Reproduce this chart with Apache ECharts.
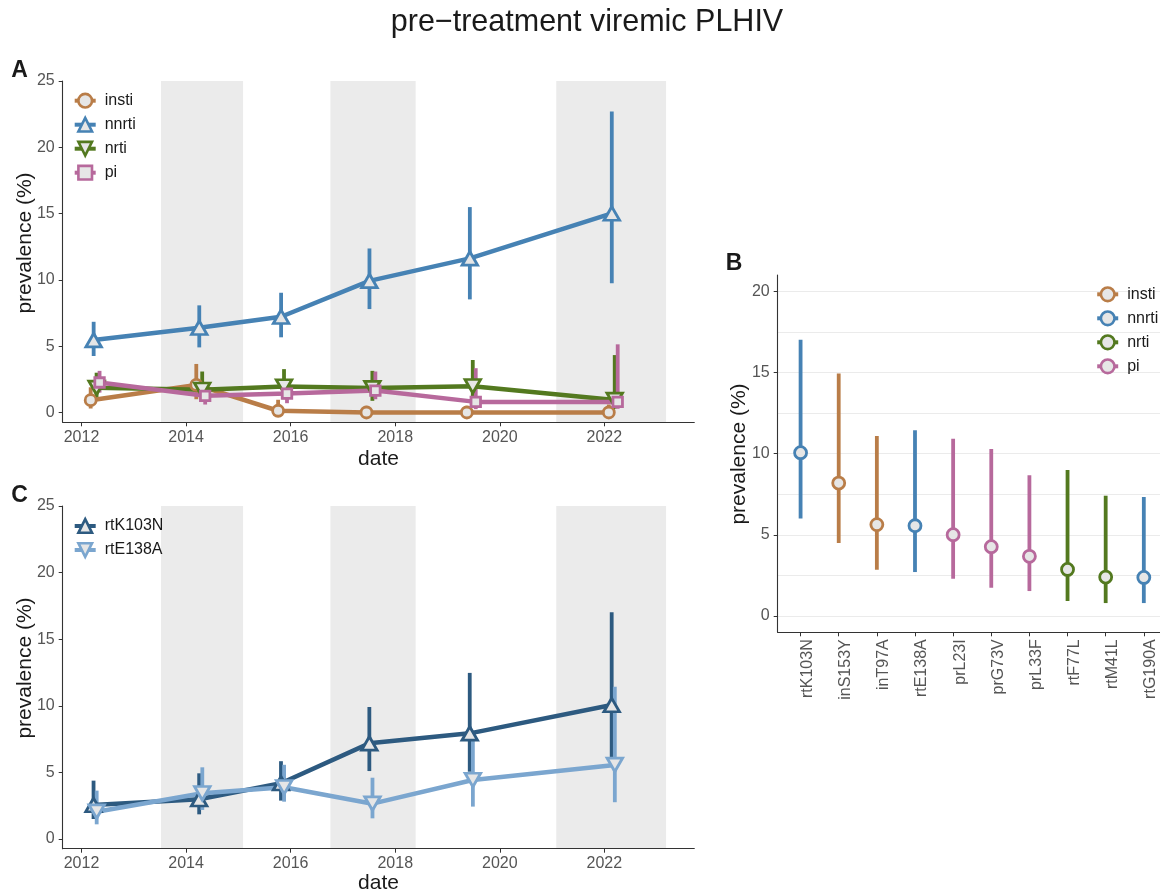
<!DOCTYPE html>
<html><head><meta charset="utf-8">
<script src="https://cdn.jsdelivr.net/npm/echarts@6/dist/echarts.min.js"></script>
<style>html,body{margin:0;padding:0;background:#fff}#c{width:1160px;height:892px}</style>
</head><body><div id="c"></div>
<script>
// ---------- DATA ----------
const TITLE = 'pre\u2212treatment viremic PLHIV';
const periodDates = [2012.26, 2014.28, 2015.845, 2017.535, 2019.455, 2022.17];
const bands = [[2013.52, 2015.09], [2016.76, 2018.39], [2021.08, 2023.18]];
const xTicks = [2012, 2014, 2016, 2018, 2020, 2022];
const yTicksTime = [0, 5, 10, 15, 20, 25];
const yTicksB = [0, 5, 10, 15, 20];
const yGridB = [0, 2.5, 5, 7.5, 10, 12.5, 15, 17.5, 20];

const classes = ['insti', 'nnrti', 'nrti', 'pi'];
const insti    = [0.93, 2.08, 0.13, 0, 0, 0];
const insti_lo = [0.3, 1.0, 0, 0, 0, 0];
const insti_hi = [1.9, 3.66, 0.96, 0.5, 0.5, 0.6];
const nnrti    = [5.46, 6.39, 7.22, 9.93, 11.62, 15.01];
const nnrti_lo = [4.26, 4.91, 5.67, 7.8, 8.53, 9.74];
const nnrti_hi = [6.84, 8.08, 9.03, 12.37, 15.49, 22.7];
const nrti     = [1.86, 1.71, 1.96, 1.84, 1.98, 0.95];
const nrti_lo  = [1.0, 0.9, 1.0, 0.88, 1.0, 0.3];
const nrti_hi  = [3.0, 3.09, 3.27, 3.14, 3.96, 4.33];
const pi       = [2.26, 1.26, 1.43, 1.65, 0.8, 0.8];
const pi_lo    = [1.5, 0.6, 0.7, 1.0, 0.25, 0.28];
const pi_hi    = [3.14, 2.0, 2.1, 3.09, 3.34, 5.14];

const mutations = ['rtK103N', 'inS153Y', 'inT97A', 'rtE138A', 'prL23I', 'prG73V', 'prL33F', 'rtF77L', 'rtM41L', 'rtG190A'];
const mutationClass = ['nnrti', 'insti', 'insti', 'nnrti', 'pi', 'pi', 'pi', 'nrti', 'nrti', 'nnrti'];
const mutPrev = [10.06, 8.19, 5.63, 5.56, 5.01, 4.27, 3.68, 2.87, 2.4, 2.38];
const mutLo   = [6.0, 4.5, 2.85, 2.71, 2.3, 1.75, 1.54, 0.92, 0.8, 0.8];
const mutHi   = [17.02, 14.93, 11.09, 11.44, 10.92, 10.29, 8.67, 8.99, 7.41, 7.33];

const rtK103N    = [2.55, 2.98, 4.18, 7.18, 7.93, 10.06];
const rtK103N_lo = [1.5, 1.85, 2.88, 5.1, 5.05, 6.06];
const rtK103N_hi = [4.38, 4.93, 5.84, 9.91, 12.47, 17.02];
const rtE138A    = [2.05, 3.43, 3.88, 2.65, 4.43, 5.56];
const rtE138A_lo = [1.1, 2.18, 2.8, 1.55, 2.43, 2.76];
const rtE138A_hi = [3.63, 5.38, 5.57, 4.6, 7.43, 11.43];

// ---------- STYLE ----------
const FONT = "'Liberation Sans', Arial, Helvetica, sans-serif";
const colors = { insti: '#B97D48', nnrti: '#4682B4', nrti: '#53791F', pi: '#B7699C', rtK103N: '#2D5A80', rtE138A: '#7BA6CF' };
const FILL = '#E6E6E6';
const AXIS = '#333333';
const TICKTXT = '#555555';
const BORDER = 2.8;
const symbols = {
  insti: { symbol: 'circle', size: 11, rot: 0 },
  nnrti: { symbol: 'triangle', size: [15.5, 13.5], rot: 0 },
  nrti: { symbol: 'triangle', size: [15.5, 13.5], rot: 180 },
  pi: { symbol: 'rect', size: 9.5, rot: 0 },
  rtK103N: { symbol: 'triangle', size: [15.5, 13.5], rot: 0 },
  rtE138A: { symbol: 'triangle', size: [15.5, 13.5], rot: 180 }
};
const dodgeA = { insti: -0.085, nnrti: -0.028, nrti: 0.028, pi: 0.085 };
const dodgeC = { rtK103N: -0.03, rtE138A: 0.03 };
const X_MIN = 2011.64, X_MAX = 2023.72;

const timeData = {
  insti: [insti, insti_lo, insti_hi], nnrti: [nnrti, nnrti_lo, nnrti_hi],
  nrti: [nrti, nrti_lo, nrti_hi], pi: [pi, pi_lo, pi_hi],
  rtK103N: [rtK103N, rtK103N_lo, rtK103N_hi], rtE138A: [rtE138A, rtE138A_lo, rtE138A_hi]
};

function errRender(colorFn, width) {
  return function (params, api) {
    const a = api.coord([api.value(0), api.value(1)]);
    const b = api.coord([api.value(0), api.value(2)]);
    return { type: 'line', shape: { x1: a[0], y1: a[1], x2: b[0], y2: b[1] },
      style: { stroke: colorFn(api), lineWidth: width } };
  };
}

function timeAxes(gridIndex, yMin) {
  const x = {
    gridIndex, type: 'value', min: X_MIN, max: X_MAX, z: 3,
    axisLine: { show: true, onZero: false, lineStyle: { color: AXIS, width: 1.1 } },
    axisTick: { show: true, customValues: xTicks, length: 4, lineStyle: { color: AXIS, width: 1 } },
    axisLabel: { customValues: xTicks, color: TICKTXT, fontSize: 16, fontFamily: FONT, margin: 7, formatter: v => String(v) },
    splitLine: { show: false }
  };
  const y = {
    gridIndex, type: 'value', min: yMin, max: 25, z: 3,
    axisLine: { show: true, onZero: false, lineStyle: { color: AXIS, width: 1.1 } },
    axisTick: { show: true, customValues: yTicksTime, length: 4, lineStyle: { color: AXIS, width: 1 } },
    axisLabel: { customValues: yTicksTime, color: TICKTXT, fontSize: 16, fontFamily: FONT, margin: 8 },
    splitLine: { show: false }
  };
  return [x, y];
}

const series = [];
function addTimePanel(names, dodge, axisIndex) {
  names.forEach(n => {
    const d = timeData[n];
    series.push({
      type: 'custom', xAxisIndex: axisIndex, yAxisIndex: axisIndex, z: 2, silent: true,
      renderItem: errRender(() => colors[n], 3.8),
      encode: { x: 0, y: [1, 2] },
      data: periodDates.map((t, i) => [t + dodge[n], d[1][i], d[2][i]])
    });
  });
  names.forEach((n, k) => {
    const d = timeData[n];
    const s = {
      type: 'line', name: n, xAxisIndex: axisIndex, yAxisIndex: axisIndex, z: 3, silent: true,
      symbol: symbols[n].symbol, symbolSize: symbols[n].size, symbolRotate: symbols[n].rot, showSymbol: true,
      lineStyle: { color: colors[n], width: 4.5 },
      itemStyle: { color: FILL, borderColor: colors[n], borderWidth: BORDER },
      emphasis: { disabled: true },
      data: periodDates.map((t, i) => [t + dodge[n], d[0][i]])
    };
    if (k === 0) {
      s.markArea = { silent: true, z: 1, itemStyle: { color: '#EBEBEB' },
        data: bands.map(b => [{ xAxis: b[0] }, { xAxis: b[1] }]) };
    }
    series.push(s);
  });
}
addTimePanel(['insti', 'nnrti', 'nrti', 'pi'], dodgeA, 0);
addTimePanel(['rtK103N', 'rtE138A'], dodgeC, 1);

// Panel B
series.push({
  type: 'custom', xAxisIndex: 2, yAxisIndex: 2, z: 2, silent: true,
  renderItem: errRender(api => colors[classes[api.value(3)]], 3.8),
  encode: { x: 0, y: [1, 2] },
  data: mutations.map((m, i) => [i, mutLo[i], mutHi[i], classes.indexOf(mutationClass[i])]),
  markLine: { silent: true, z: 1, symbol: 'none', label: { show: false },
    lineStyle: { color: '#EBEBEB', width: 1.1, type: 'solid' },
    data: yGridB.map(v => ({ yAxis: v })) }
});
classes.forEach(c => {
  series.push({
    type: 'line', name: 'B_' + c, xAxisIndex: 2, yAxisIndex: 2, z: 3, silent: true,
    symbol: 'circle', symbolSize: 12, showSymbol: true,
    lineStyle: { color: colors[c], width: 4, opacity: 0 },
    itemStyle: { color: FILL, borderColor: colors[c], borderWidth: BORDER },
    emphasis: { disabled: true },
    data: mutations.map((m, i) => mutationClass[i] === c ? [i, mutPrev[i]] : null).filter(v => v)
  });
});

const [xA, yA] = timeAxes(0, -0.74);
const [xC, yC] = timeAxes(1, -0.73);
const catIdx = mutations.map((m, i) => i);
const xB = {
  gridIndex: 2, type: 'value', min: -0.6, max: 9.6, z: 3,
  axisLine: { show: true, onZero: false, lineStyle: { color: AXIS, width: 1.1 } },
  axisTick: { show: true, customValues: catIdx, length: 4, lineStyle: { color: AXIS, width: 1 } },
  axisLabel: { customValues: catIdx, rotate: 90, color: TICKTXT, fontSize: 16, fontFamily: FONT, margin: 7,
    verticalAlign: 'top', lineHeight: 14, formatter: v => mutations[Math.round(v)] },
  splitLine: { show: false }
};
const yB = {
  gridIndex: 2, type: 'value', min: -1, max: 21, z: 3,
  axisLine: { show: true, onZero: false, lineStyle: { color: AXIS, width: 1.1 } },
  axisTick: { show: true, customValues: yTicksB, length: 4, lineStyle: { color: AXIS, width: 1 } },
  axisLabel: { customValues: yTicksB, color: TICKTXT, fontSize: 16, fontFamily: FONT, margin: 8 },
  splitLine: { show: false }
};

const legendCommon = {
  orient: 'vertical', padding: 0, itemWidth: 21, itemHeight: 17, itemGap: 7,
  selectedMode: false,
  textStyle: { fontSize: 16, fontFamily: FONT, color: '#1a1a1a', lineHeight: 17, padding: [0, 0, 0, 4] },
  itemStyle: { borderWidth: 2.6 },
  lineStyle: { width: 4 }
};

function txt(text, x, y, size, opts) {
  return Object.assign({ type: 'text', x, y, silent: true,
    style: { text, fill: '#1a1a1a', font: (opts && opts.bold ? 'bold ' : '') + size + 'px ' + FONT,
      align: 'center', verticalAlign: 'middle' } }, opts && opts.rot ? { rotation: opts.rot } : {});
}

const option = {
  animation: false,
  backgroundColor: '#ffffff',
  grid: [
    { left: 62.7, top: 81, width: 631.6, height: 341.3, containLabel: false, outerBoundsMode: 'none' },
    { left: 62.7, top: 506, width: 631.6, height: 342.7, containLabel: false, outerBoundsMode: 'none' },
    { left: 777.7, top: 275, width: 389, height: 357.3, containLabel: false, outerBoundsMode: 'none' }
  ],
  xAxis: [xA, xC, xB],
  yAxis: [yA, yC, yB],
  legend: [
    Object.assign({}, legendCommon, { left: 72.7, top: 92.2, data: ['insti', 'nnrti', 'nrti', 'pi'] }),
    Object.assign({}, legendCommon, { left: 72.7, top: 517.5, data: ['rtK103N', 'rtE138A'] }),
    Object.assign({}, legendCommon, { left: 1095.2, top: 285.8, data: classes.map(c => 'B_' + c),
      formatter: n => n.replace('B_', ''), lineStyle: { opacity: 1, width: 4 } })
  ],
  graphic: [
    txt(TITLE, 587, 23, 30.5),
    txt('A', 19.5, 71, 23, { bold: true }),
    txt('B', 734, 264, 23, { bold: true }),
    txt('C', 19.5, 496, 23, { bold: true }),
    txt('prevalence (%)', 25, 243, 21, { rot: Math.PI / 2 }),
    txt('prevalence (%)', 739, 454, 21, { rot: Math.PI / 2 }),
    txt('prevalence (%)', 25, 668, 21, { rot: Math.PI / 2 }),
    txt('date', 378.5, 459, 21),
    txt('date', 378.5, 883, 21)
  ],
  series
};

const chart = echarts.init(document.getElementById('c'), null, { renderer: 'canvas', width: 1160, height: 892 });
chart.setOption(option);
</script>
</body></html>
